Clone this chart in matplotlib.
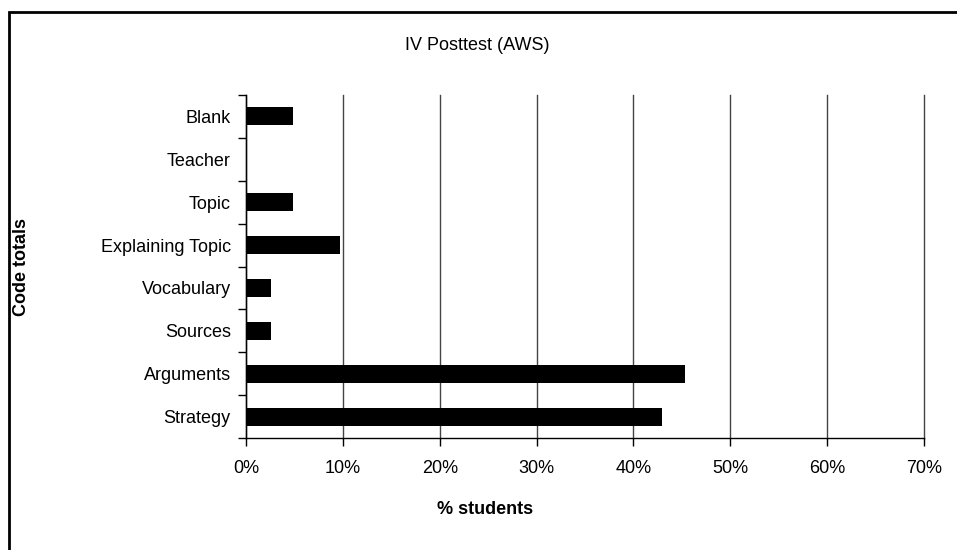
import matplotlib.pyplot as plt
import matplotlib.patches as patches
import numpy as np

plt.rcParams['font.family'] = ['Liberation Sans', 'DejaVu Sans']

categories = ['Strategy', 'Arguments', 'Sources', 'Vocabulary',
              'Explaining Topic', 'Topic', 'Teacher', 'Blank']
values = [43.0, 45.3, 2.6, 2.6, 9.7, 4.9, 0.0, 4.9]
xticks = [0, 10, 20, 30, 40, 50, 60, 70]

fig = plt.figure(figsize=(9.57, 5.5), dpi=100)
ax = fig.add_axes([246/957, 1 - 438/550, (924 - 246)/957, (438 - 95)/550])

y = np.arange(len(categories))
ax.barh(y, values, height=0.42, color='black', zorder=3)

ax.set_xlim(0, 70)
ax.set_ylim(-0.5, len(categories) - 0.5)
ax.set_xticks(xticks)
ax.set_xticklabels(['%d%%' % v for v in xticks], fontsize=13)
ax.set_yticks(y)
ax.set_yticklabels(categories, fontsize=13)
ax.set_yticks(np.arange(len(categories) + 1) - 0.5, minor=True)
ax.tick_params(axis='y', which='major', length=0, pad=11)
ax.tick_params(axis='y', which='minor', length=6, width=1, direction='out')
ax.tick_params(axis='x', which='major', length=6, width=1, direction='out', pad=10)

ax.grid(axis='x', color='#444444', linewidth=1, zorder=0)
for gl in ax.get_xgridlines():
    gl.set_clip_on(False)
ax.spines['top'].set_visible(False)
ax.spines['right'].set_visible(False)
for s in ('left', 'bottom'):
    ax.spines[s].set_linewidth(1)

fig.text(477/957, 1 - 46/550, 'IV Posttest (AWS)', ha='center', va='center', fontsize=13)
fig.text(485/957, 1 - 510/550, '% students', ha='center', va='center',
         fontsize=13, fontweight='bold')
fig.text(22/957, 1 - 267/550, 'Code totals', ha='center', va='center',
         fontsize=13, fontweight='bold', rotation=90)

# outer border of the chart area
border = patches.Rectangle((9/957, -0.1), 1.2, 1 - 12/550 + 0.1,
                           transform=fig.transFigure, fill=False,
                           edgecolor='black', linewidth=2, clip_on=False)
fig.patches.append(border)

fig.savefig('out.png', dpi=100)
